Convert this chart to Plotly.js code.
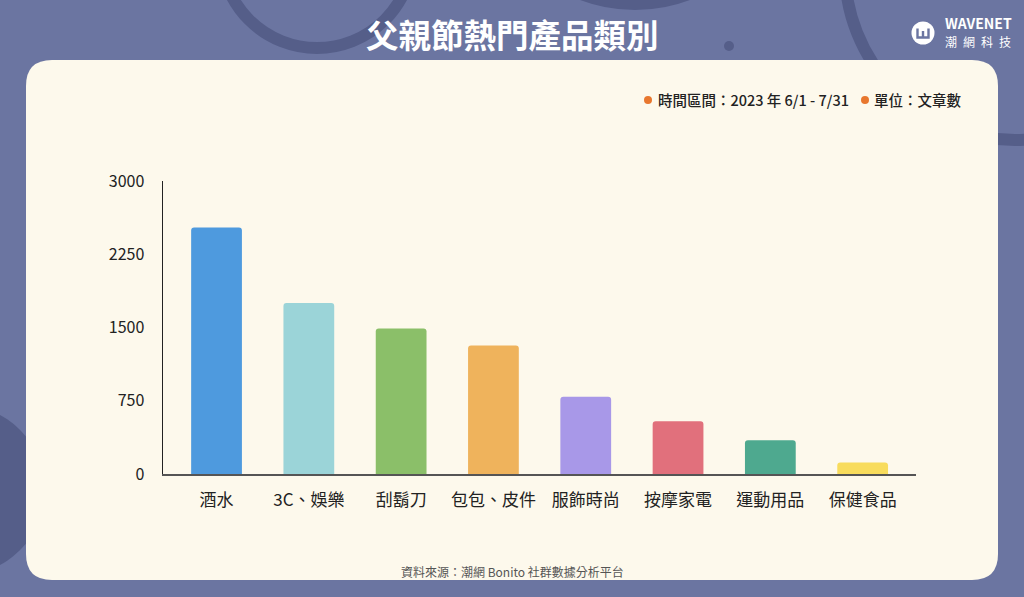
<!DOCTYPE html>
<html>
<head>
<meta charset="utf-8">
<script src="https://cdn.plot.ly/plotly-3.0.1.min.js"></script>
<style>
html,body{margin:0;padding:0;background:#6b75a1;}
#chart{width:1024px;height:597px;}
</style>
</head>
<body>
<div id="chart"></div>
<script>
const categories = ['酒水','3C、娛樂','刮鬍刀','包包、皮件','服飾時尚','按摩家電','運動用品','保健食品'];
const values = [2525, 1752, 1490, 1315, 790, 540, 346, 118];
const barColors = ['#4e9ade','#9bd4d8','#8bbf69','#efb35c','#a898e8','#e1707c','#4ea98f','#f8dc5c'];
const yTicks = [0, 750, 1500, 2250, 3000];
const titleText = '父親節熱門產品類別';
const periodText = '時間區間：2023 年 6/1 - 7/31';
const unitText = '單位：文章數';
const sourceText = '資料來源：潮網 Bonito 社群數據分析平台';

const W = 1024, H = 597;
const X = p => p / W;
const Y = p => 1 - p / H;
const FONT = '"Noto Sans CJK TC", "Noto Sans", sans-serif';
const BG = '#6b75a1', DARK = '#555e89', CARD = '#fdf9ec';

function rr(x0, y0, x1, y1, r) {
  return `M${X(x0+r)},${Y(y0)} L${X(x1-r)},${Y(y0)} Q${X(x1)},${Y(y0)} ${X(x1)},${Y(y0+r)} ` +
         `L${X(x1)},${Y(y1-r)} Q${X(x1)},${Y(y1)} ${X(x1-r)},${Y(y1)} L${X(x0+r)},${Y(y1)} ` +
         `Q${X(x0)},${Y(y1)} ${X(x0)},${Y(y1-r)} L${X(x0)},${Y(y0+r)} Q${X(x0)},${Y(y0)} ${X(x0+r)},${Y(y0)} Z`;
}
function circ(cx, cy, r, opts) {
  return Object.assign({type:'circle', xref:'paper', yref:'paper', layer:'below',
    x0:X(cx-r), x1:X(cx+r), y0:Y(cy+r), y1:Y(cy-r)}, opts);
}

const shapes = [
  // decorative background shapes
  circ(317, -48, 96, {line:{color:DARK, width:12}, fillcolor:'rgba(0,0,0,0)'}),
  circ(635, -146, 156, {line:{width:0}, fillcolor:DARK}),
  circ(1015, -30, 170, {line:{color:DARK, width:12}, fillcolor:'rgba(0,0,0,0)'}),
  circ(-40, 490, 85, {line:{width:0}, fillcolor:DARK}),
  circ(729, 46, 5, {line:{width:0}, fillcolor:DARK}),
  // card
  {type:'path', xref:'paper', yref:'paper', layer:'below', path: rr(26, 60, 998, 580, 26),
   fillcolor: CARD, line:{width:0}},
  // legend dots
  circ(648, 100, 4, {line:{width:0}, fillcolor:'#e8772e'}),
  circ(865, 100, 4, {line:{width:0}, fillcolor:'#e8772e'}),
  // logo
  circ(923, 33, 11.5, {line:{width:0}, fillcolor:'#ffffff', layer:'above'}),
  {type:'path', xref:'paper', yref:'paper', layer:'above',
   path:`M${X(917.5)},${Y(28.5)} L${X(917.5)},${Y(37.5)} L${X(928.5)},${Y(37.5)} L${X(928.5)},${Y(28.5)} M${X(923)},${Y(31)} L${X(923)},${Y(37.5)}`,
   line:{color:BG, width:2.4}}
];

const annotations = [
  {text:titleText, x:0.5, y:Y(33), xref:'paper', yref:'paper', showarrow:false,
   xanchor:'center', yanchor:'middle', font:{family:FONT, size:32.5, color:'#ffffff', weight:700}},
  {text:'WAVENET', x:X(943), y:Y(23), xref:'paper', yref:'paper', showarrow:false,
   xanchor:'left', yanchor:'middle', font:{family:FONT, size:14, color:'#ffffff', weight:700}},
  {text:'潮\u2002網\u2002科\u2002技', x:X(943), y:Y(42), xref:'paper', yref:'paper', showarrow:false,
   xanchor:'left', yanchor:'middle', font:{family:FONT, size:12, color:'#ffffff'}},
  {text:periodText, x:X(656), y:Y(100), xref:'paper', yref:'paper', showarrow:false,
   xanchor:'left', yanchor:'middle', font:{family:FONT, size:14.5, color:'#222222', weight:500}},
  {text:unitText, x:X(872), y:Y(100), xref:'paper', yref:'paper', showarrow:false,
   xanchor:'left', yanchor:'middle', font:{family:FONT, size:14.5, color:'#222222', weight:500}},
  {text:sourceText, x:0.5, y:Y(571), xref:'paper', yref:'paper', showarrow:false,
   xanchor:'center', yanchor:'middle', font:{family:FONT, size:12, color:'#555555'}}
];

const trace = {
  type:'bar', x:categories, y:values,
  marker:{color:barColors, cornerradius:3, line:{width:0}},
  width:0.55, hoverinfo:'skip'
};

const layout = {
  width:W, height:H,
  margin:{l:0, r:0, t:0, b:0},
  paper_bgcolor:BG, plot_bgcolor:'rgba(0,0,0,0)',
  showlegend:false,
  font:{family:FONT, color:'#222222'},
  xaxis:{
    domain:[X(163), X(916)], range:[-0.58, 7.578], type:'category',
    showgrid:false, zeroline:false, showline:true, linecolor:'#555555', linewidth:2,
    ticks:'outside', ticklen:10, tickcolor:'rgba(0,0,0,0)',
    tickfont:{family:FONT, size:17, color:'#222222'}, automargin:false, fixedrange:true
  },
  yaxis:{
    domain:[Y(474), Y(181)], range:[0, 3000],
    tickvals:yTicks, ticktext:yTicks.map(String),
    showgrid:false, zeroline:false, showline:true, linecolor:'#222222', linewidth:1.5,
    ticks:'outside', ticklen:14, tickcolor:'rgba(0,0,0,0)',
    tickfont:{family:FONT, size:16, color:'#222222'}, automargin:false, fixedrange:true
  },
  shapes:shapes,
  annotations:annotations
};

Plotly.newPlot('chart', [trace], layout, {displayModeBar:false, staticPlot:true});
</script>
</body>
</html>
